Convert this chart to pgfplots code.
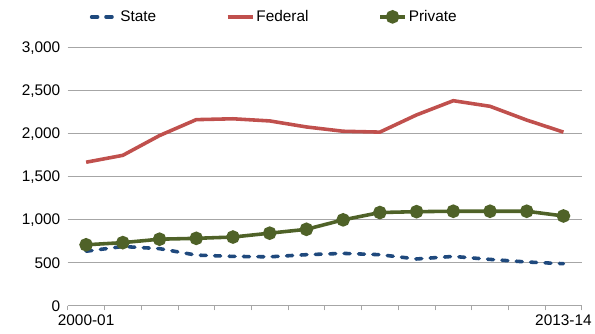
\documentclass[border=0pt]{standalone}
\usepackage{pgfplots}
\pgfplotsset{compat=1.18}
\usepackage{fontspec}
\setmainfont{Liberation Sans}
\definecolor{stateblue}{HTML}{1F497D}
\definecolor{fedred}{HTML}{C0504D}
\definecolor{privgreen}{HTML}{4F6228}
\definecolor{gridgray}{HTML}{A6A6A6}
\begin{document}
\begin{tikzpicture}
\begin{axis}[
  scale only axis,
  width=516bp, height=259bp,
  xmin=-0.5, xmax=13.5,
  ymin=0, ymax=3000,
  ytick={0,500,...,3000},
  ymajorgrids,
  grid style={gridgray, line width=0.8pt},
  axis x line*=bottom,
  axis y line*=left,
  y axis line style={draw=none},
  major y tick style={draw=none},
  x axis line style={gridgray, line width=0.8pt, -},
  xtick={0,13},
  xticklabels={2000-01,2013-14},
  major x tick style={draw=none},
  minor xtick={-0.5,0.5,...,13.5},
  minor x tick style={gridgray, line width=0.8pt},
  minor tick length=4.5bp,
  xtick align=outside,
  /pgf/number format/1000 sep={,},
  /pgf/number format/assume math mode=true,
  tick label style={font=\fontsize{15.5}{18}\selectfont, text=black},
  xticklabel style={yshift=-1bp},
  yticklabel style={xshift=-4bp},
  legend style={
    at={(rel axis cs:0.0426,1.12)}, anchor=west,
    draw=none, fill=none, inner xsep=0pt,
    legend columns=3,
    font=\fontsize{15.5}{18}\selectfont,
    /tikz/every even column/.append style={column sep=68bp},
  },
  legend image code/.code={
    \draw[#1] (0bp,0bp) -- (25bp,0bp);
    \draw[#1, solid] plot coordinates {(12.5bp,0bp)};
  },
  legend cell align=left,
]
\addplot[stateblue, line width=3.6pt, dash pattern=on 6pt off 8.5pt, line cap=round, mark=none] coordinates {
(0,635) (1,690) (2,665) (3,590) (4,575) (5,570) (6,595) (7,610) (8,595) (9,545) (10,575) (11,540) (12,510) (13,490)};
\addlegendentry{State}
\addplot[fedred, line width=3.6pt, mark=none] coordinates {
(0,1670) (1,1750) (2,1980) (3,2165) (4,2175) (5,2150) (6,2080) (7,2030) (8,2020) (9,2220) (10,2385) (11,2320) (12,2160) (13,2020)};
\addlegendentry{Federal}
\addplot[privgreen, line width=3.6pt, mark=*, mark size=5pt, mark options={solid, fill=privgreen}] coordinates {
(0,710) (1,735) (2,775) (3,785) (4,800) (5,845) (6,890) (7,1000) (8,1085) (9,1095) (10,1100) (11,1100) (12,1100) (13,1045)};
\addlegendentry{Private}
\end{axis}
\path (current axis.south west) ++(-68bp,-28bp) coordinate (bl);
\path (current axis.north east) ++(11bp,48bp) coordinate (tr);
\path (bl) rectangle (tr);
\end{tikzpicture}
\end{document}
